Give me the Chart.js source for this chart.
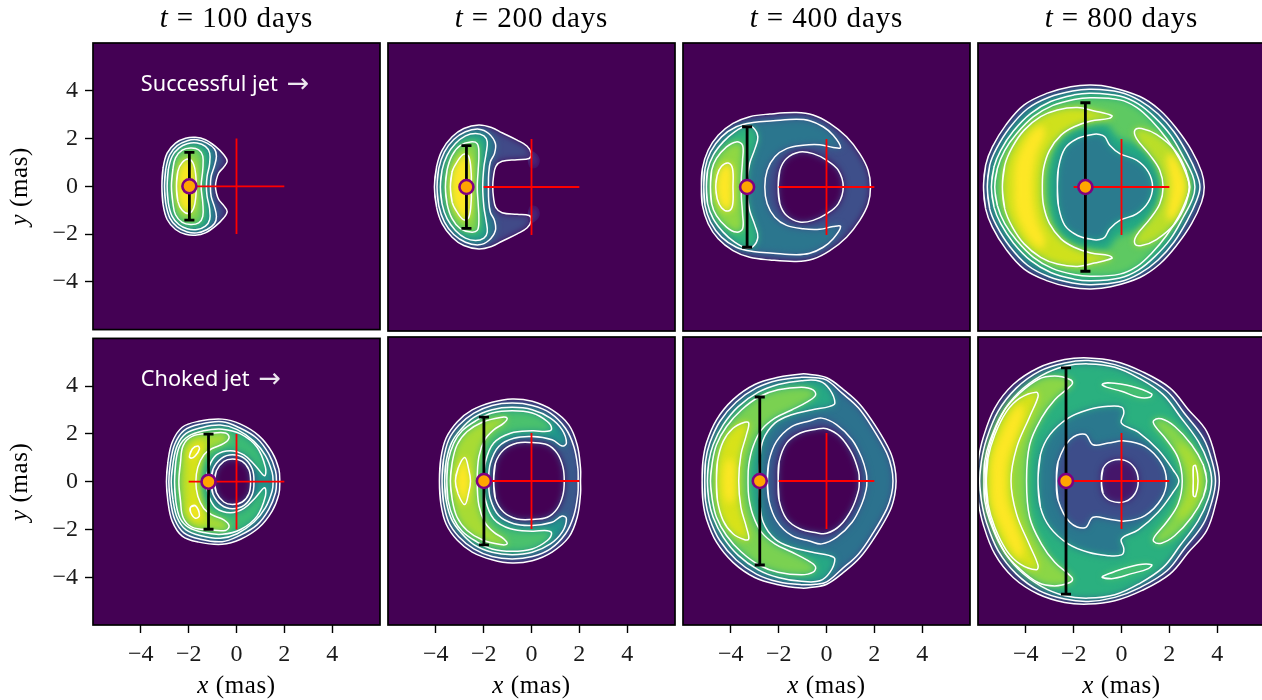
<!DOCTYPE html>
<html><head><meta charset="utf-8">
<style>html,body{margin:0;padding:0;background:#fff;width:1262px;height:700px;overflow:hidden}canvas{position:absolute;display:block}</style>
<script src="https://cdn.jsdelivr.net/npm/chart.js@4"></script>
</head><body>
<script>
// ---- labels ----
const titles = ['100','200','400','800'];
const tickValues = [-4,-2,0,2,4];
const notes = ['Successful jet','Choked jet'];
// ---- marker position (mas) and vertical half-extent (mas), panels left→right, top→bottom ----
const markerX = [-1.97,-2.72,-3.32,-1.51,-1.17,-1.99,-2.79,-2.32];
const extentY = [1.42,1.72,2.51,3.51,1.99,2.66,3.50,4.71];
const crossH = [-2,2];
const crossV = [-2,2];
// ---- level curves in mas: x,y,x,y... upper half from left axis crossing to the other axis crossing ----
const a1=[-3.12,0,-3.07,.77,-2.90,1.39,-2.55,1.81,-2.13,2.01,-1.72,2.05,-1.30,1.95,-.88,1.67,-.53,1.32,-.39,1.05,-.53,.81,-.74,.56,-.84,.28,-.88,0];
const b1=[-3.01,0,-2.96,.70,-2.79,1.32,-2.48,1.70,-2.06,1.91,-1.65,1.95,-1.23,1.81,-.92,1.56,-.84,1.26,-.92,.86,-1.06,.42,-1.09,0];
const c1=[-2.90,0,-2.85,.70,-2.69,1.26,-2.41,1.60,-2.06,1.78,-1.65,1.81,-1.30,1.67,-1.12,1.39,-1.13,.91,-1.23,.42,-1.26,0];
const d1=[-2.72,0,-2.66,.70,-2.55,1.19,-2.27,1.51,-1.92,1.60,-1.58,1.53,-1.41,1.26,-1.41,.70,-1.48,0];
const e1=[-2.51,0,-2.45,.63,-2.27,1.0,-1.99,1.14,-1.79,.91,-1.70,.42,-1.69,0];

const a2=[-4.06,0,-3.97,.84,-3.74,1.53,-3.32,2.09,-2.83,2.44,-2.20,2.58,-1.65,2.47,-1.23,2.26,-.60,1.95,-.18,1.70,-.01,1.39,-.10,1.19,-.60,1.14,-1.23,1.07,-1.49,.86,-1.59,.42,-1.62,0];
const b2=[-3.95,0,-3.88,.77,-3.64,1.46,-3.25,1.98,-2.76,2.30,-2.20,2.41,-1.79,2.23,-1.51,1.81,-1.55,1.39,-1.72,1.05,-1.79,.56,-1.80,0];
const c2=[-3.81,0,-3.74,.70,-3.53,1.32,-3.18,1.81,-2.76,2.13,-2.34,2.23,-1.99,2.13,-1.85,1.88,-1.90,1.39,-1.99,.84,-2.04,0];
const d2=[-3.60,0,-3.53,.70,-3.32,1.32,-2.97,1.74,-2.55,1.88,-2.27,1.81,-2.20,1.39,-2.23,.70,-2.27,0];
const e2=[-3.39,0,-3.32,.63,-3.11,1.05,-2.83,1.37,-2.62,1.26,-2.52,.56,-2.52,0];
const g2u=[-.1,1.5,.2,1.4,.35,1.1,.2,.8,-.1,.85];
const g2d=[-.1,-1.5,.2,-1.4,.35,-1.1,.2,-.8,-.1,-.85];

const a3=[-5.23,0,-5.19,.77,-4.95,1.53,-4.53,2.16,-3.91,2.65,-3.21,2.93,-2.37,3.04,-1.26,3.10,-.56,3.00,.14,2.65,.84,2.09,1.39,1.39,1.74,.70,1.84,0];
const b3=[-5.13,0,-5.08,.77,-4.85,1.46,-4.39,2.09,-3.77,2.51,-3.07,2.69,-2.23,2.76,-1.26,2.82,-.70,2.76,-.14,2.51,.28,2.16,.59,1.65,.28,1.65,-.28,1.76,-.98,1.74,-1.67,1.60,-2.16,1.26,-2.48,.70,-2.58,0];
const c3=[-5.02,0,-4.97,.70,-4.74,1.32,-4.32,1.88,-3.84,2.30,-3.35,2.54,-3.07,2.48,-2.87,2.09,-2.99,1.60,-3.21,.98,-3.32,.28,-3.35,0];
const d3=[-4.85,0,-4.80,.70,-4.60,1.19,-4.18,1.67,-3.77,1.88,-3.51,1.74,-3.51,1.12,-3.56,.42,-3.56,0];
const e3=[-4.63,0,-4.57,.49,-4.39,.86,-4.11,1.00,-3.93,.77,-3.91,0];
const h3=[-2.02,0,-1.95,.70,-1.67,1.19,-1.12,1.46,-.56,1.39,0,1.12,.49,.70,.70,0];

const a4=[-5.77,0,-5.68,.91,-5.40,1.67,-4.84,2.58,-4.07,3.42,-3.10,3.91,-2.12,4.18,-1.28,4.25,-.45,4.16,.77,3.77,1.60,3.21,2.30,2.44,2.93,1.53,3.35,.63,3.46,0];
const b4=[-5.61,0,-5.51,.91,-5.23,1.60,-4.70,2.44,-3.93,3.26,-3.03,3.74,-2.05,4.00,-1.28,4.07,-.07,3.95,.77,3.60,1.53,3.04,2.19,2.30,2.75,1.39,3.14,.56,3.28,0];
const c4=[-5.44,0,-5.33,.84,-5.05,1.53,-4.52,2.33,-3.79,3.07,-2.96,3.56,-1.98,3.84,-1.28,3.91,-.07,3.79,.70,3.46,1.39,2.90,2.05,2.16,2.58,1.26,2.97,.49,3.07,0];
const d4=[-5.30,0,-5.19,.77,-4.88,1.53,-4.38,2.23,-3.68,2.93,-2.89,3.39,-1.98,3.65,-1.28,3.72,-.07,3.63,.63,3.32,1.26,2.76,1.88,2.02,2.41,1.19,2.75,.42,2.86,0];
const f4=[-3.10,0,-3.03,.77,-2.75,1.74,-2.12,2.37,-1.21,2.58,-.59,2.58,-.17,2.09,.53,1.81,1.23,1.33,1.60,.49,1.70,0];
const e4=[-4.98,0,-4.88,.91,-4.56,1.67,-4.07,2.37,-3.38,2.93,-2.68,3.21,-1.84,3.31,-1.14,3.17,-.40,2.97,-.52,2.86,-1.28,2.75,-1.98,2.51,-2.53,2.16,-3.01,1.53,-3.26,.77,-3.31,0];
const y4=[-4.5,0,-4.45,.91,-4.2,1.6,-3.75,2.3,-3.3,2.55,-3.2,2.2,-3.5,1.46,-3.65,.77,-3.7,0];
const r4=[2.83,0,2.69,.70,2.23,1.53,1.46,2.19,.84,2.44,.56,2.37,.63,2.02,1.19,1.33,1.60,.70,1.74,0];
const s4=[2.7,0,2.55,.6,2.25,1.2,1.95,1.4,1.9,1.0,2.0,.5,2.05,0];
const g4=[-2.68,0,-2.64,.77,-2.37,1.60,-1.84,2.02,-1.21,2.19,-.91,2.19,-.70,2.09,-.49,1.74,-.07,1.39,.63,1.12,1.12,.63,1.30,0];

const a5=[-2.93,0,-2.87,.81,-2.69,1.65,-2.27,2.28,-1.58,2.53,-.60,2.62,.17,2.41,.93,1.93,1.49,1.23,1.77,.53,1.81,0];
const b5=[-2.83,0,-2.76,.81,-2.58,1.58,-2.20,2.14,-1.51,2.41,-.60,2.51,.10,2.27,.86,1.81,1.35,1.16,1.63,.46,1.67,0];
const c5=[-2.73,0,-2.66,.74,-2.48,1.51,-2.11,2.02,-1.44,2.27,-.67,2.37,.03,2.18,.73,1.69,1.21,1.09,1.49,.39,1.53,0];
const d5=[-2.59,0,-2.54,.81,-2.37,1.51,-2.02,1.90,-1.37,2.13,-.60,2.20,.17,2.00,.86,1.44,1.21,.60,1.17,.25,.79,.67,.31,1.12,-.25,1.30,-.84,1.12,-1.16,.60,-1.26,0];
const e5=[-2.41,0,-2.34,.81,-2.23,1.51,-1.86,1.90,-1.09,2.02,-.46,2.04,-.31,1.85,-.53,1.60,-1.02,1.39,-1.37,1.12,-1.62,.60,-1.70,0];
const y5=[-2.05,0,-2.1,.8,-1.95,1.5,-1.45,1.8,-1.3,1.5,-1.45,1.0,-1.55,.3,-1.6,0];
const k5u=[-1.97,1.05,-1.85,1.37,-1.62,1.49,-1.55,1.37,-1.72,1.09,-1.90,.98];
const k5d=[-1.92,-1.07,-1.72,-1.00,-1.55,-1.42,-1.72,-1.53,-1.92,-1.28];
const h5=[-1.06,0,-.98,.53,-.63,.98,-.17,1.13,.33,.98,.66,.53,.73,0];
const i5=[-.92,0,-.84,.46,-.53,.85,-.17,.95,.24,.85,.52,.50,.59,0];

const a6=[-3.85,0,-3.79,.95,-3.57,1.79,-3.10,2.47,-2.48,2.96,-1.65,3.28,-.81,3.42,.03,3.32,.86,2.96,1.56,2.34,1.91,1.51,2.05,.53,2.05,0];
const b6=[-3.74,0,-3.68,.88,-3.46,1.72,-3.04,2.32,-2.41,2.83,-1.65,3.15,-.81,3.25,.03,3.15,.79,2.83,1.42,2.20,1.77,1.44,1.94,.53,1.95,0];
const c6=[-3.63,0,-3.57,.81,-3.35,1.58,-2.97,2.13,-2.41,2.65,-1.65,2.97,-.81,3.07,.03,2.97,.79,2.62,1.28,2.13,1.46,1.58,1.28,1.46,.86,1.72,.03,1.85,-.74,1.78,-1.37,1.44,-1.72,.74,-1.79,0];
const d6=[-3.54,0,-3.49,.81,-3.25,1.58,-2.90,2.09,-2.34,2.50,-1.65,2.83,-.81,2.93,.03,2.83,.66,2.48,.84,2.18,.66,2.07,.03,2.09,-.88,1.99,-1.58,1.58,-1.92,.81,-1.99,0];
const e6=[-3.39,0,-3.32,.74,-3.11,1.51,-2.69,2.06,-2.06,2.45,-1.30,2.65,-1.02,2.62,-1.16,2.41,-1.58,2.13,-1.95,1.72,-2.20,1.02,-2.27,0];
const f6=[-3.18,0,-3.07,.53,-2.79,.98,-2.62,.46,-2.55,0];
const h6=[-1.58,0,-1.51,.74,-1.16,1.30,-.60,1.58,.03,1.60,.66,1.51,1.07,1.16,1.31,.60,1.37,0];

const a7=[-5.20,0,-5.17,.81,-5.02,1.58,-4.60,2.55,-3.91,3.39,-3.00,4.02,-2.02,4.32,-1.05,4.46,-.68,4.44,.01,4.30,.71,3.81,1.41,3.18,2.11,2.20,2.66,1.23,2.85,.6,2.91,0];
const b7=[-5.09,0,-5.06,.81,-4.88,1.58,-4.46,2.48,-3.77,3.29,-2.93,3.88,-2.02,4.20,-1.05,4.32,-.45,4.30,.01,4.20,.64,3.67,1.34,3.04,1.97,2.13,2.52,1.16,2.72,.55,2.78,0];
const c7=[-4.98,0,-4.92,.81,-4.74,1.51,-4.32,2.34,-3.69,3.10,-2.85,3.70,-2.02,4.02,-1.05,4.18,-.28,4.16,.14,3.81,.35,3.25,.14,3.11,-.63,2.96,-1.46,2.76,-2.16,2.41,-2.65,1.71,-2.79,.81,-2.82,0];
const d7=[-4.85,0,-4.78,.74,-4.60,1.51,-4.18,2.27,-3.56,2.96,-2.79,3.52,-2.02,3.80,-1.05,3.91,-.56,3.80,-.46,3.57,-.77,3.32,-1.46,2.96,-2.16,2.62,-2.72,2.13,-3.07,1.44,-3.25,.67,-3.28,0];
const e7=[-4.60,0,-4.56,.81,-4.32,1.65,-3.91,2.20,-3.42,2.45,-3.25,2.41,-3.35,1.92,-3.58,1.09,-3.67,0];
const f7=[-4.32,0,-4.25,.67,-4.04,.95,-3.86,.67,-3.84,0];
const h7=[-2.47,0,-2.41,.81,-2.09,1.65,-1.46,2.27,-.68,2.51,-.20,2.62,.43,2.34,1.07,1.72,1.48,.95,1.66,.35,1.69,0];
const i7=[-2.02,0,-1.98,.81,-1.67,1.58,-1.12,1.99,-.42,2.16,.01,2.18,.57,1.85,1.06,1.16,1.34,.39,1.37,0];

const a8=[-6.07,0,-6.00,.81,-5.79,1.78,-5.30,3.04,-4.53,4.02,-3.49,4.71,-2.38,5.06,-1.39,5.13,-.28,4.99,.84,4.57,2.02,3.88,2.79,2.98,3.56,2.07,3.97,.81,4.09,0];
const b8=[-5.93,0,-5.86,.81,-5.65,1.72,-5.16,2.90,-4.39,3.88,-3.42,4.58,-2.37,4.92,-1.39,5.02,-.28,4.85,.77,4.44,1.90,3.74,2.62,2.83,3.42,1.79,3.79,.81,3.93,0];
const c8=[-5.75,0,-5.72,.81,-5.51,1.65,-5.02,2.76,-4.32,3.67,-3.35,4.39,-2.37,4.78,-1.39,4.88,-.28,4.74,.70,4.30,1.74,3.60,2.44,2.70,3.21,1.65,3.63,.74,3.77,0];
const d8=[-5.69,0,-5.63,.95,-5.37,1.92,-4.88,2.97,-4.32,3.60,-3.49,4.23,-2.79,4.37,-2.16,4.23,-2.05,4.07,-2.23,3.87,-2.79,3.39,-3.35,2.62,-3.84,1.51,-3.97,0];
const e8=[-5.65,0,-5.58,.95,-5.30,1.92,-4.81,2.89,-4.25,3.45,-3.56,3.70,-3.49,3.51,-3.84,2.68,-4.39,1.37,-4.62,0];
const y8=[-5.45,0,-5.4,.95,-5.05,1.9,-4.6,2.8,-4.2,3.2,-4.1,2.8,-4.4,1.9,-4.75,.9,-4.82,0];
const r8=[3.56,0,3.42,.67,2.93,1.51,2.23,2.27,1.67,2.59,1.35,2.52,1.39,2.31,1.88,1.72,2.37,.95,2.54,0];
const s8=[3.3,0,3.1,.9,2.6,1.5,2.3,1.5,2.6,.9,2.85,0];
const t8=[3.00,0,3.00,.60,3.10,.64,3.20,0];
const u8=[-.81,4.02,-.56,4.09,.42,3.95,1.26,3.63,1.19,3.49,.70,3.49,0,3.74,-.63,3.91];
const v8=[-.81,-4.00,-.28,-3.77,.70,-3.49,1.26,-3.49,1.12,-3.65,.42,-3.86,-.42,-4.07];
const g8=[-3.49,0,-3.39,1.09,-3.00,1.92,-2.23,2.62,-1.39,2.97,-.56,3.11,0,3.08,.10,2.84,0,2.41,.70,2.04,1.53,1.30,2.16,.46,2.40,0];
const h8=[-2.72,0,-2.65,.81,-2.16,1.72,-1.53,1.95,-1.19,1.51,-.56,1.58,.14,1.67,.98,1.44,1.67,.74,1.88,0];
const i8=[-.84,0,-.77,.53,-.42,.84,.14,.86,.56,.53,.70,0];

// ---- stack of levels per panel: [curve, colour, mirrored, white line, outer edge] ----
const Q='#440154';
const layers1=[[a1,'#3f4a89',1,1,1],[b1,'#2a788e',1,1],[c1,'#22a884',1,1],[d1,'#7ad151',1,1],[e1,'#f8e621',1,1]];
const layers2=[[g2u,'#48287c',0,0,1],[g2d,'#48287c',0,0,1],[a2,'#414a88',1,1,1],[b2,'#2a788e',1,1],[c2,'#25a984',1,1],[d2,'#86d549',1,1],[e2,'#fde725',1,1]];
const layers3=[[a3,'#3e4f8a',1,1,1],[b3,'#2b768e',1,1],[c3,'#2fb47c',1,1],[d3,'#90d743',1,1],[e3,'#fde725',1,1],[h3,Q,1,1]];
const layers4=[[a4,'#3e4a89',1,1,1],[b4,'#26828e',1,1],[c4,'#25ab82',1,1],[d4,'#5ec962',1,1],[f4,'#22a884',1,0],[e4,'#cfe11c',1,1],[y4,'#fde725',1,0],[r4,'#bade28',1,1],[s4,'#fde725',1,0],[g4,'#2a7b8e',1,1]];
const layers5=[[a5,'#443983',1,1,1],[b5,'#31688e',1,1],[c5,'#21918c',1,1],[d5,'#3bbb75',1,1],[e5,'#a5db36',1,1],[y5,'#d8e219',1,0],[k5u,'#fde725',0,1],[k5d,'#fde725',0,1],[h5,'#3b528b',1,1],[i5,Q,1,1]];
const layers6=[[a6,'#414487',1,1,1],[b6,'#3a5a8c',1,1],[c6,'#1f968b',1,1],[d6,'#4ac16d',1,1],[e6,'#a8db34',1,1],[f6,'#fde725',1,1],[h6,Q,1,1]];
const layers7=[[a7,'#3e4a89',1,1,1],[b7,'#2c728e',1,1],[c7,'#26a884',1,1],[d7,'#7ad151',1,1],[e7,'#d8e219',1,1],[f7,'#fde725',1,0],[h7,'#3b528b',1,1],[i7,Q,1,1]];
const layers8=[[a8,'#46337e',1,1,1],[b8,'#2c728e',1,1],[c8,'#2ab07f',1,1],[d8,'#8bd646',1,1],[e8,'#d5e21a',1,1],[y8,'#fde725',1,0],[r8,'#86d549',1,1],[s8,'#aadc32',1,0],[t8,'#c2df23',1,1],[u8,'#4ec36b',0,1],[v8,'#4ec36b',0,1],[g8,'#2a788e',1,1],[h8,'#3d4d8a',1,1],[i8,'#45166a',1,1]];
const panels=[layers1,layers2,layers3,layers4,layers5,layers6,layers7,layers8];

// ---- page layout ----
const colLeft=[93,388,683,978], rowTop=[43,337], panelW=287, panelH=288;
const SERIF='"Liberation Serif", serif';

function toPoints(flat){const p=[];for(let i=0;i<flat.length;i+=2)p.push({x:flat[i],y:flat[i+1]});return p;}
function ring(flat,mirror){
  let p=toPoints(flat);
  if(mirror){const back=p.slice(1,-1).reverse().map(q=>({x:q.x,y:-q.y}));p=p.concat(back);}
  const n=p.length;
  return [p[n-1]].concat(p,[p[0],p[1]]);
}
function runs(ctx,parts,cx,cy,size,spacing){
  ctx.save();ctx.textBaseline='alphabetic';ctx.textAlign='left';ctx.fillStyle='#000';
  ctx.letterSpacing=(spacing||0)+'px';
  let w=0;
  for(const r of parts){ctx.font=(r[1]?'italic ':'')+size+'px '+SERIF;w+=ctx.measureText(r[0]).width;}
  let x=cx-w/2;
  for(const r of parts){ctx.font=(r[1]?'italic ':'')+size+'px '+SERIF;ctx.fillText(r[0],x,cy);x+=ctx.measureText(r[0]).width;}
  ctx.restore();
}
function tickLabel(v){return v<0?'\u2212'+(-v):String(v);}

const BLUR='blur(3.6px)';
const paint={id:'paint',
  beforeDraw(ch){
    const {ctx,chartArea:a}=ch;
    ctx.save();ctx.fillStyle=Q;ctx.fillRect(a.left,a.top,a.width,a.height);ctx.restore();
    ctx.save();
    ctx.beginPath();
    ch.data.datasets.forEach((d,i)=>{
      if(d.outerEdge){const line=ch.getDatasetMeta(i).dataset;line.updateControlPoints(a,'x');line.path(ctx);ctx.closePath();}
    });
    ctx.clip();
    ctx.filter=BLUR;
  },
  beforeDatasetsDraw(ch){ch.ctx.filter='none';ch.ctx.restore();},
  afterDraw(ch,args,o){
    const {ctx,chartArea:a}=ch;
    ctx.save();ctx.strokeStyle='#000';ctx.lineWidth=1.7;ctx.strokeRect(a.left,a.top,a.width,a.height);ctx.restore();
    if(o.row===0)runs(ctx,[['t',1],[' = '+titles[o.col]+' days',0]],a.left+a.width/2,27,29,.9);
    if(o.row===1)runs(ctx,[['x',1],[' (mas)',0]],a.left+a.width/2,a.bottom+68,25,.6);
    if(o.col===0){
      ctx.save();ctx.translate(21,a.top+a.height/2);ctx.rotate(-Math.PI/2);
      runs(ctx,[['y',1],[' (mas)',0]],0,6,25,.6);ctx.restore();
      ctx.save();ctx.fillStyle='#fff';ctx.font='21.7px "Noto Sans", sans-serif';ctx.textBaseline='middle';ctx.textAlign='left';
      const nx=ch.scales.x.getPixelForValue(-4),ny=ch.scales.y.getPixelForValue(4.25);
      ctx.fillText(notes[o.row],nx,ny);
      const w=ctx.measureText(notes[o.row]).width;
      ctx.font='27px "DejaVu Sans", sans-serif';ctx.fillStyle='rgba(255,255,255,.9)';ctx.fillText('→',nx+w+9,ny);ctx.restore();
    }
  }};

panels.forEach((lay,i)=>{
  const col=i%4,row=i>3?1:0;
  const ml=col===0?93:4,mr=4,mt=row===0?43:20,mb=row===1?75:20;
  const cv=document.createElement('canvas');
  cv.width=panelW+ml+mr;cv.height=panelH+mt+mb;
  cv.style.left=(colLeft[col]-ml)+'px';cv.style.top=(rowTop[row]-mt)+'px';
  cv.style.width=cv.width+'px';cv.style.height=cv.height+'px';
  document.body.appendChild(cv);
  const ds=[];
  const base={showLine:true,pointRadius:0,tension:.38,fill:false};
  lay.forEach(l=>ds.push(Object.assign({},base,{data:ring(l[0],!!l[2]),backgroundColor:l[1],fill:'shape',borderColor:'#fff',borderWidth:l[3]?1.5:0,outerEdge:!!l[4]})));
  const mx=markerX[i],ey=extentY[i];
  ds.push(Object.assign({},base,{tension:0,data:[{x:crossH[0],y:0},{x:crossH[1],y:0}],borderColor:'#f00',borderWidth:1.8}));
  ds.push(Object.assign({},base,{tension:0,data:[{x:0,y:crossV[0]},{x:0,y:crossV[1]}],borderColor:'#f00',borderWidth:1.8}));
  ds.push(Object.assign({},base,{tension:0,data:[{x:mx-.21,y:ey},{x:mx+.21,y:ey},{x:mx,y:ey},{x:mx,y:-ey},{x:mx-.21,y:-ey},{x:mx+.21,y:-ey}],borderColor:'#000',borderWidth:2.8,borderCapStyle:'butt'}));
  ds.push({showLine:false,data:[{x:mx,y:0}],pointRadius:7,pointBorderWidth:2.6,pointBackgroundColor:'#ffa500',pointBorderColor:'#800080'});
  ds.forEach((d,k)=>{d.order=ds.length-k;});
  const axis=(show,fit)=>({type:'linear',min:-6,max:6,display:show,
    afterBuildTicks:s=>{s.ticks=tickValues.map(v=>({value:v}));},afterFit:show?fit:undefined,
    grid:{drawOnChartArea:false,drawTicks:true,tickLength:8,tickWidth:1.4,tickColor:'#000',z:1},
    border:{display:false,z:1},
    ticks:{z:1,autoSkip:false,maxRotation:0,padding:7,color:'#1a1a1a',font:{family:SERIF,size:24},callback:v=>tickLabel(v)}});
  new Chart(cv,{type:'scatter',data:{datasets:ds},plugins:[paint],options:{
    responsive:false,animation:false,events:[],devicePixelRatio:1,
    layout:{autoPadding:false,padding:{left:col===0?0:ml,right:mr,top:mt,bottom:row===1?0:mb}},
    scales:{x:axis(row===1,s=>{s.height=mb;}),y:axis(col===0,s=>{s.width=ml;})},
    plugins:{legend:{display:false},tooltip:{enabled:false},filler:{drawTime:'beforeDatasetsDraw',propagate:false},paint:{col,row}}
  }});
});
</script>
</body></html>
